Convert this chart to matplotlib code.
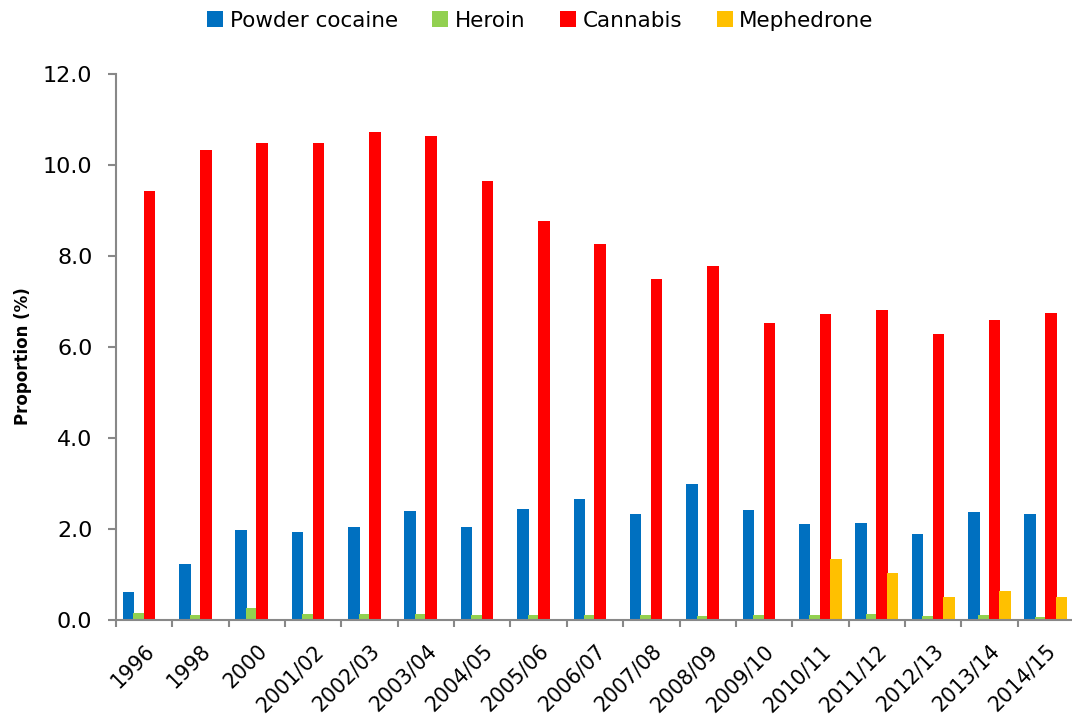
import matplotlib
matplotlib.use("Agg")
import matplotlib.pyplot as plt
from matplotlib.patches import Patch
import numpy as np

plt.rcParams['font.family'] = ['DejaVu Sans']

years = ["1996", "1998", "2000", "2001/02", "2002/03", "2003/04", "2004/05",
         "2005/06", "2006/07", "2007/08", "2008/09", "2009/10", "2010/11",
         "2011/12", "2012/13", "2013/14", "2014/15"]

cocaine = [0.62, 1.24, 1.97, 1.93, 2.05, 2.39, 2.04, 2.45, 2.65, 2.34, 3.00,
           2.41, 2.10, 2.13, 1.90, 2.37, 2.32]
heroin = [0.15, 0.12, 0.27, 0.14, 0.14, 0.13, 0.12, 0.12, 0.12, 0.10, 0.08,
          0.10, 0.10, 0.14, 0.08, 0.10, 0.07]
cannabis = [9.42, 10.32, 10.48, 10.49, 10.72, 10.63, 9.64, 8.76, 8.26, 7.49,
            7.79, 6.52, 6.72, 6.81, 6.29, 6.59, 6.74]
mephedrone = [0, 0, 0, 0, 0, 0, 0, 0, 0, 0, 0, 0, 1.33, 1.04, 0.51, 0.64, 0.50]

series = [("Powder cocaine", cocaine, "#0070C0"),
          ("Heroin", heroin, "#92D050"),
          ("Cannabis", cannabis, "#FF0000"),
          ("Mephedrone", mephedrone, "#FFC000")]

fig = plt.figure(figsize=(10.72, 7.22), dpi=100)
ax = fig.add_axes([116 / 1072, 102 / 722, 958 / 1072, 546 / 722])

x = np.arange(len(years))
step = 0.186
width = 0.205
for i, (name, vals, col) in enumerate(series):
    ax.bar(x + (i - 1.5) * step, vals, width=width, color=col,
           edgecolor='none', zorder=2)

ax.set_xlim(-0.5, len(years) - 0.5)
ax.set_ylim(0, 12)
yt = np.arange(0, 12.1, 2)
ax.set_yticks(yt)
ax.set_yticklabels(["%.1f" % v for v in yt], fontsize=16)

ax.set_xticks(x)
ax.set_xticklabels(years, rotation=45, ha='right', va='top',
                   rotation_mode='anchor', fontsize=14.8)
ax.set_xticks(np.arange(-0.5, len(years), 1), minor=True)
ax.tick_params(axis='x', which='major', length=0, pad=15)
ax.tick_params(axis='x', which='minor', length=5, color='#888888', width=1.5)
ax.tick_params(axis='y', length=6, color='#888888', width=1.5, pad=11)

for s in ['top', 'right']:
    ax.spines[s].set_visible(False)
for s in ['left', 'bottom']:
    ax.spines[s].set_color('#888888')
    ax.spines[s].set_linewidth(1.5)

ax.set_ylabel("Proportion (%)", fontsize=12, fontweight='bold')
ax.yaxis.set_label_coords(-0.0877, 0.484)

handles = [Patch(facecolor=c, edgecolor='none', label=n) for n, _, c in series]
fig.legend(handles=handles, loc='upper center', bbox_to_anchor=(0.504, 1.012),
           ncol=4, frameon=False, fontsize=15.5, handlelength=0.75,
           handleheight=0.75, handletextpad=0.3, columnspacing=1.6)

fig.savefig("out.png", dpi=100)
